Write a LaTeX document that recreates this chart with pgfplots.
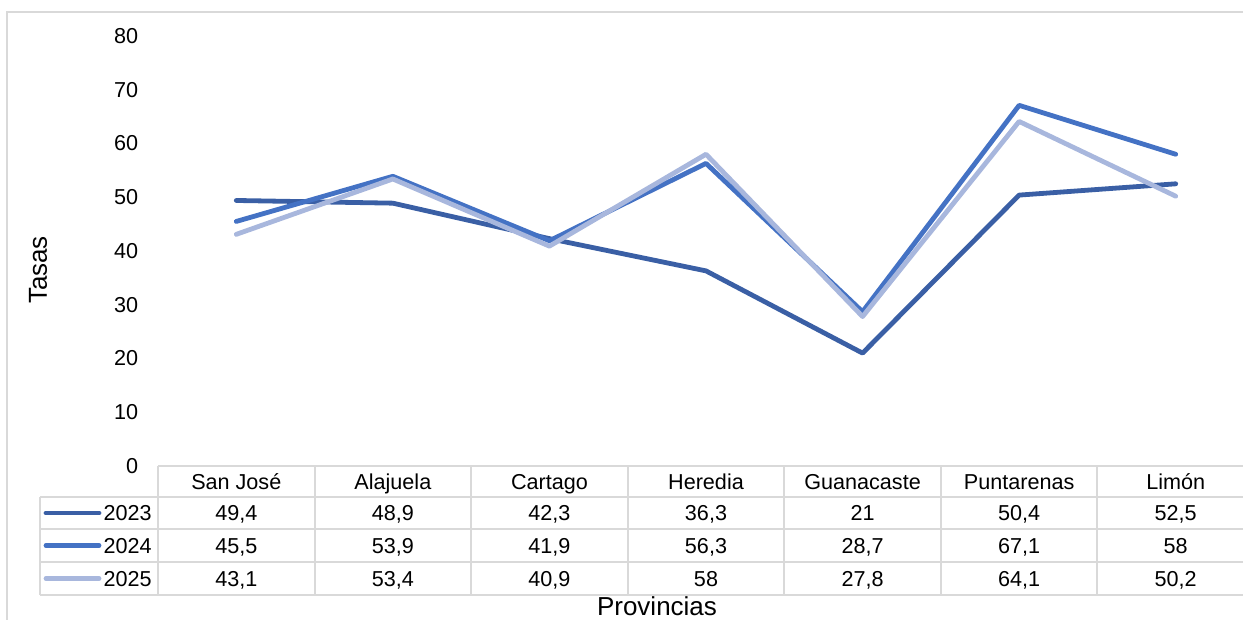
\documentclass[border=0pt]{standalone}
\usepackage{fontspec}
\setmainfont{Liberation Sans}
\usepackage{pgfplots}
\pgfplotsset{compat=1.18}
\definecolor{c23}{HTML}{3A5FA5}
\definecolor{c24}{HTML}{4472C4}
\definecolor{c25}{HTML}{A8B7DD}
\definecolor{gridc}{HTML}{D9D9D9}

\begin{document}
\begin{tikzpicture}
\path[use as bounding box] (0pt,0pt) rectangle (621.5pt,310pt);
% outer chart border
\draw[gridc, line width=1pt] (3.5pt,-20pt) -- (3.5pt,304pt) -- (660pt,304pt);

\begin{axis}[
    at={(79pt,77pt)}, anchor=south west,
    scale only axis, width=548pt, height=215pt,
    xmin=-0.5, xmax=6.5, ymin=0, ymax=80,
    xtick=\empty, ytick={0,10,...,80},
    axis line style={draw=none}, major tick length=0pt,
    yticklabel style={font=\fontsize{10.8}{13}\selectfont, xshift=-6.4pt},
    /pgf/number format/assume math mode=true,
    clip=false,
    every axis plot/.append style={line width=2.4pt, line cap=round, line join=round},
]
\addplot[c23] coordinates {(0,49.4) (1,48.9) (2,42.3) (3,36.3) (4,21) (5,50.4) (6,52.5)};
\addplot[c24] coordinates {(0,45.5) (1,53.9) (2,41.9) (3,56.3) (4,28.7) (5,67.1) (6,58)};
\addplot[c25] coordinates {(0,43.1) (1,53.4) (2,40.9) (3,58) (4,27.8) (5,64.1) (6,50.2)};
\end{axis}

% data table below the plot
\begin{scope}[x=1pt, y=1pt]
\begin{scope}[gridc, line width=1pt]
  \draw (79,77) -- (660,77);
  \foreach \y in {61.5,45.5,29,12.5} \draw (20,\y) -- (660,\y);
  \draw (20,61.5) -- (20,12.5);
  \foreach \k in {0,...,7} \draw ({79+\k*78.286},77) -- ({79+\k*78.286},12.5);
\end{scope}

\begin{scope}[every node/.style={font=\fontsize{10.8}{13}\selectfont, inner sep=0pt, text height=7.7pt, text depth=0pt}]
  \foreach \n [count=\i from 0] in {San José,Alajuela,Cartago,Heredia,Guanacaste,Puntarenas,Limón}
    \node at ({79+(\i+0.5)*78.286},69.25) {\n};
  \foreach \v [count=\i from 0] in {{49,4},{48,9},{42,3},{36,3},21,{50,4},{52,5}}
    \node at ({79+(\i+0.5)*78.286},53.5) {\v};
  \foreach \v [count=\i from 0] in {{45,5},{53,9},{41,9},{56,3},{28,7},{67,1},58}
    \node at ({79+(\i+0.5)*78.286},37.25) {\v};
  \foreach \v [count=\i from 0] in {{43,1},{53,4},{40,9},58,{27,8},{64,1},{50,2}}
    \node at ({79+(\i+0.5)*78.286},20.75) {\v};
  \foreach \yr/\c/\y in {2023/c23/53.5,2024/c24/37.25,2025/c25/20.75} {
    \draw[\c, line width=2.4pt, line cap=round] (23,\y) -- (49.5,\y);
    \node[anchor=east] at (76,\y) {\yr};
  }
\end{scope}

\node[rotate=90, font=\fontsize{13}{15}\selectfont] at (19,175) {Tasas};
\node[anchor=base, font=\fontsize{13}{15}\selectfont, inner sep=0pt] at (328.5,2.3) {Provincias};
\end{scope}
\end{tikzpicture}
\end{document}
